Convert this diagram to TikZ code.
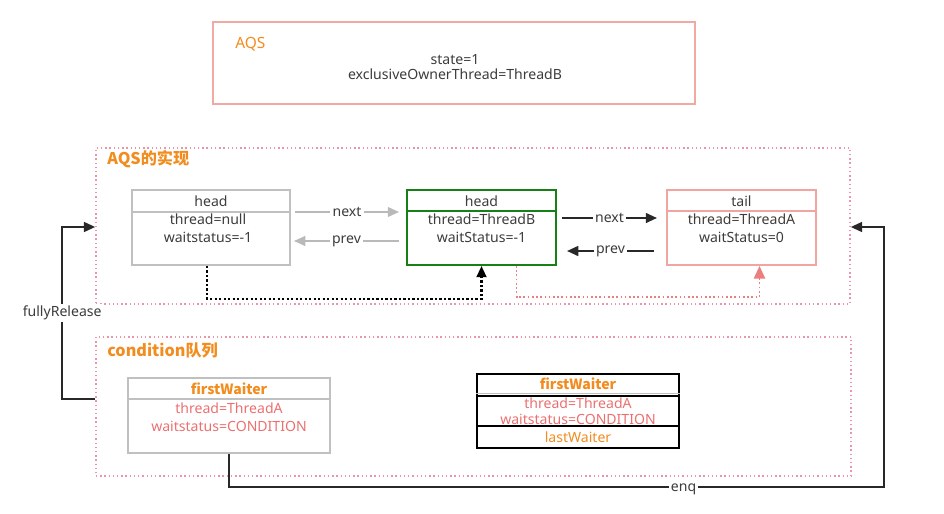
\documentclass[tikz,border=0pt]{standalone}
\usepackage{fontspec}
\setmainfont{Noto Sans}
\newfontfamily\cjk{Noto Sans CJK SC}
\usetikzlibrary{arrows.meta,positioning,calc}
\definecolor{aqspink}{RGB}{240,170,162}
\definecolor{dotpink}{RGB}{232,150,170}
\definecolor{titleorange}{RGB}{242,140,30}
\definecolor{boxgray}{RGB}{192,192,192}
\definecolor{nodegreen}{RGB}{22,128,22}
\definecolor{tailpink}{RGB}{240,165,160}
\definecolor{textred}{RGB}{234,112,112}
\definecolor{linkgray}{RGB}{185,185,185}
\definecolor{linkdark}{RGB}{40,40,40}
\definecolor{textdark}{RGB}{60,60,60}

\begin{document}
\begin{tikzpicture}[
x=0.025cm, y=-0.025cm,
txt/.style={inner sep=0pt, font=\fontsize{10}{11}\selectfont, text=textdark},
data/.style={txt, align=center, font=\fontsize{10}{12.5}\selectfont},
title/.style={inner sep=0pt, anchor=west, font=\cjk\bfseries\fontsize{11.5}{12}\selectfont, text=titleorange},
waiter/.style={inner sep=0pt, font=\cjk\bfseries\fontsize{10}{11}\selectfont, text=titleorange},
box/.style={draw, inner sep=0pt, line width=1.4pt},
area/.style={draw=dotpink, line width=1pt, dash pattern=on 1pt off 2pt, inner sep=0pt},
link/.style={draw=linkdark, line width=1.4pt, -{Triangle[length=8pt,width=7pt]}},
graylink/.style={link, draw=linkgray, line width=1.1pt},
dotlink/.style={link, draw=black, line width=1.6pt, dash pattern=on 1.6pt off 1.6pt},
lbl/.style={txt, fill=white, inner sep=1.5pt}
]
\useasboundingbox (0,0) rectangle (944,513);

% ================= TOP: AQS STATE =================
\node[box, draw=aqspink, minimum width=12.05cm, minimum height=2.05cm] (aqs) at (454,63) {};
\node[txt, anchor=west, text=titleorange, font=\fontsize{11}{12}\selectfont] (aqstitle) at (235,44) {AQS};
\node[txt, align=center] (aqsstate) at (455,67) {state=1\\exclusiveOwnerThread=ThreadB};

% ================= AQS QUEUE =================
\node[area, minimum width=18.85cm, minimum height=3.9cm] (implarea) at (473,226) {};
\node[title] (impltitle) at (107,159) {AQS的实现};

% old head
\node[box, draw=boxgray, minimum width=3.95cm, minimum height=1.875cm] (oldhead) at (211,227.5) {};
\draw[boxgray, line width=1.4pt] (oldhead.west |- 0,212) -- (oldhead.east |- 0,212);
\node[txt] (oldheadname) at (211,201) {head};
\node[data] (oldheaddata) at (208,228) {thread=null\\waitstatus=-1};

% current head
\node[box, draw=nodegreen, minimum width=3.725cm, minimum height=1.875cm] (curhead) at (481.5,227.5) {};
\draw[nodegreen, line width=1.4pt] (curhead.west |- 0,211) -- (curhead.east |- 0,211);
\node[txt] (curheadname) at (481.5,201) {head};
\node[data] (curheaddata) at (481.5,228) {thread=ThreadB\\waitStatus=-1};

% tail
\node[box, draw=tailpink, minimum width=3.725cm, minimum height=1.875cm] (tail) at (741.5,227.5) {};
\draw[tailpink, line width=1.4pt] (tail.west |- 0,211) -- (tail.east |- 0,211);
\node[txt] (tailname) at (741.5,201) {tail};
\node[data] (taildata) at (741.5,228) {thread=ThreadA\\waitStatus=0};

% next / prev
\draw[graylink] ([shift={(4,-15.5)}]oldhead.east) -- node[lbl]{next} ([shift={(-7,-15.5)}]curhead.west);
\draw[graylink] ([shift={(-7,13.5)}]curhead.west) -- node[lbl]{prev} ([shift={(3,13.5)}]oldhead.east);
\draw[link] ([shift={(5,-9.5)}]curhead.east) -- node[lbl]{next} ([shift={(-9,-9.5)}]tail.west);
\draw[link] ([shift={(-12,23.5)}]tail.west) -- node[lbl]{prev} ([shift={(10,23.5)}]curhead.east);

% dotted moves
\draw[dotlink] ([shift={(-4,0)}]oldhead.south) -- ++(0,33) -| (curhead.south);
\draw[dotlink, draw=textred!90, line width=1.2pt, dash pattern=on 1.2pt off 1.8pt, -{Triangle[length=9pt,width=8pt]}] ([shift={(35,0)}]curhead.south) -- ++(0,31) -| ([shift={(18,0)}]tail.south);

% ================= CONDITION QUEUE =================
\node[area, minimum width=18.875cm, minimum height=3.475cm] (condarea) at (473.5,406.5) {};
\node[title] (condtitle) at (107,350) {condition队列};

% waiting node
\node[box, draw=boxgray, minimum width=5.05cm, minimum height=1.875cm] (firstw) at (229,415.5) {};
\draw[boxgray, line width=1.4pt] (firstw.west |- 0,399) -- (firstw.east |- 0,399);
\node[waiter] (firstwname) at (229,389) {firstWaiter};
\node[data, text=textred] (firstwdata) at (229,417) {thread=ThreadA\\waitstatus=CONDITION};

% condition object
\node[box, draw=black, minimum width=5.05cm, minimum height=1.85cm] (waitq) at (578,411) {};
\draw[boxgray, line width=1pt] (waitq.west |- 0,393.5) -- (waitq.east |- 0,393.5);
\draw[black, line width=1.4pt] (waitq.west |- 0,396) -- (waitq.east |- 0,396);
\draw[black, line width=1.4pt] (waitq.west |- 0,426) -- (waitq.east |- 0,426);
\node[waiter] (waitqfirst) at (578,384) {firstWaiter};
\node[txt, align=center, text=textred] (waitqdata) at (578,411) {thread=ThreadA\\waitstatus=CONDITION};
\node[txt, text=titleorange] (waitqlast) at (578,437) {lastWaiter};

% ================= CONNECTORS =================
\coordinate (enqturn) at (884,487);
\draw[link] (condarea.west |- 0,399) -- ++(-33,0) |- node[lbl, pos=0.25]{fullyRelease} (implarea.west |- 0,227);
\draw[link] (firstw.south) |- node[lbl, pos=0.847, yshift=-2pt]{enq} (enqturn) |- (implarea.east |- 0,227);

\end{tikzpicture}
\end{document}
